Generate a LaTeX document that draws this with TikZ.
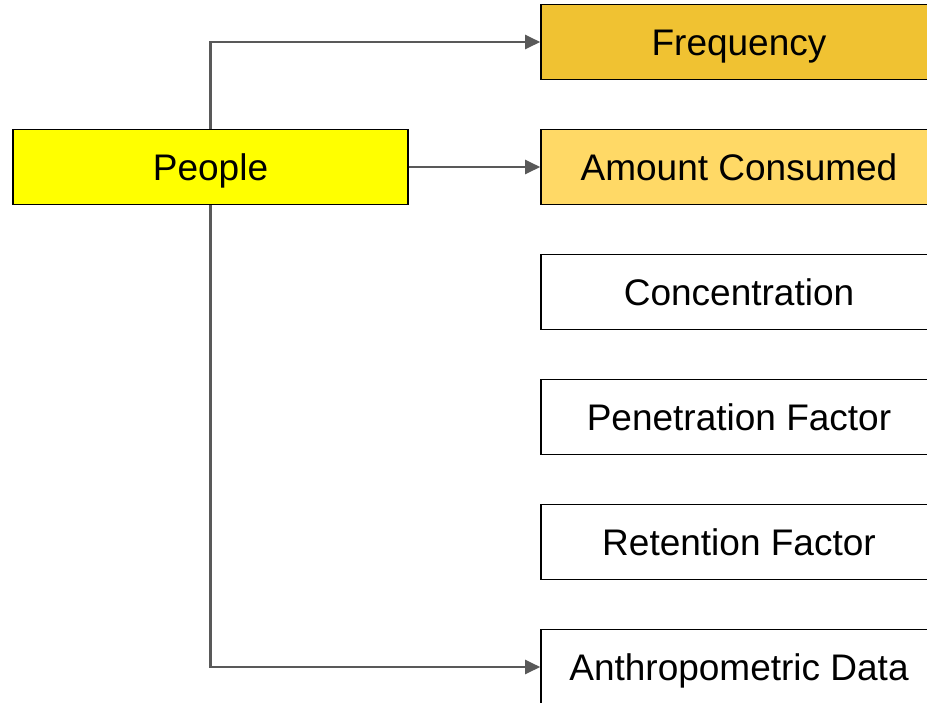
\documentclass[tikz,border=0pt]{standalone}
\usepackage{fontspec}
\setmainfont{Liberation Sans}
\usetikzlibrary{arrows.meta}
\definecolor{gold}{HTML}{F0C232}
\definecolor{lightgold}{HTML}{FFD966}
\definecolor{pureyellow}{HTML}{FFFF00}
\definecolor{conn}{HTML}{595959}
\begin{document}
\begin{tikzpicture}[x=1pt,y=-1pt,
  box/.style={draw=black,line width=1.6pt,minimum width=396pt,minimum height=75pt,inner sep=0pt,
    text height=26.5pt,text depth=0pt,font=\fontsize{37}{44}\selectfont,text=black},
  rbox/.style={box},
  conn/.style={draw=conn,line width=2.2pt,-{Triangle[length=15pt,width=14pt]}}]
\useasboundingbox (0,0) rectangle (927,702);
\clip (0,0) rectangle (927,702);
\fill[white] (0,0) rectangle (927,702);
\node[box,fill=pureyellow,minimum width=395pt] (people) at (210.5,167) {People};
\node[rbox,fill=gold] (freq) at (739,42) {Frequency};
\node[rbox,fill=lightgold] (amt) at (739,167) {Amount Consumed};
\node[rbox] (conc) at (739,292) {Concentration};
\node[rbox] (pen) at (739,417) {Penetration Factor};
\node[rbox] (ret) at (739,542) {Retention Factor};
\node[rbox] (anth) at (739,667) {Anthropometric Data};
\draw[conn] (people.north) |- (freq.west);
\draw[conn] (people.east) -- (amt.west);
\draw[conn] (people.south) |- (anth.west);
\end{tikzpicture}
\end{document}
